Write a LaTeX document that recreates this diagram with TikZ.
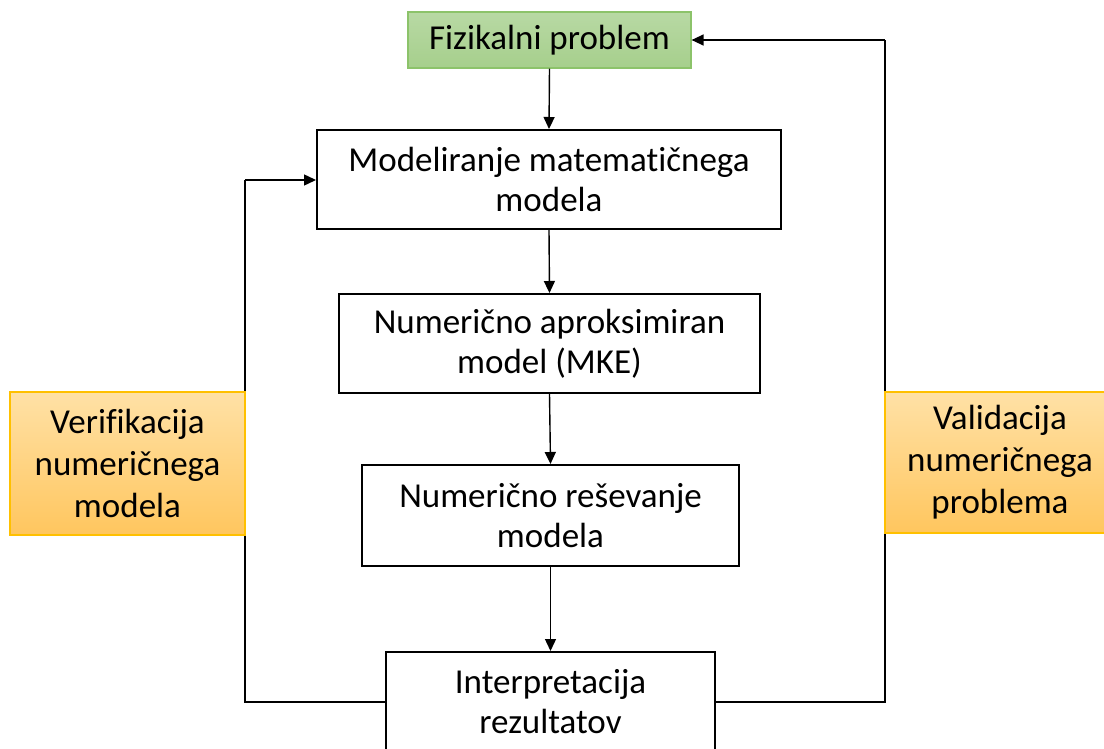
\documentclass[tikz,border=0pt]{standalone}
\usepackage{fontspec}
\setmainfont{Carlito}[Ligatures={NoCommon}]
\usetikzlibrary{arrows.meta}
\definecolor{gfill1}{HTML}{B8D9A4}
\definecolor{gfill2}{HTML}{A6CF8C}
\definecolor{gline}{HTML}{8CC36A}
\definecolor{ofill1}{HTML}{FFE1A6}
\definecolor{ofill2}{HTML}{FFC65E}
\definecolor{oline}{HTML}{FFC000}
\tikzset{
  box/.style={draw=black, line width=2pt, fill=white, align=center, inner sep=0pt,
    font=\fontsize{35}{40}\selectfont},
  greenbox/.style={draw=gline, line width=1.2pt, top color=gfill1, bottom color=gfill2,
    align=center, inner sep=0pt, font=\fontsize{35}{40}\selectfont},
  orangebox/.style={draw=oline, line width=1.2pt, top color=ofill1, bottom color=ofill2,
    align=center, inner sep=0pt, font=\fontsize{35}{42}\selectfont},
  conn/.style={draw=black, line width=1.4pt},
  arr/.style={conn, -{Triangle[length=12pt,width=11pt]}}
}
\begin{document}
\begin{tikzpicture}[x=1pt,y=-1pt]
\useasboundingbox (0,0) rectangle (1104,749);
\clip (0,0) rectangle (1104,749);
\fill[white] (0,0) rectangle (1104,749);
\node[greenbox, minimum width=283pt, minimum height=56pt] (fp) at (549.5,40) {Fizikalni problem};
\node[box, minimum width=464pt, minimum height=99pt] (mm) at (549,179.5) {Modeliranje matematičnega\\modela};
\node[box, minimum width=421pt, minimum height=99pt] (na) at (549.5,343.5) {Numerično aproksimiran\\model (MKE)};
\node[box, minimum width=377pt, minimum height=101pt] (nr) at (550.5,515.5) {Numerično reševanje\\modela};
\node[box, minimum width=329pt, minimum height=100pt] (ir) at (550.5,702) {Interpretacija\\rezultatov};
\coordinate (lb) at (245,702);
\coordinate (lt) at (245,180);
\coordinate (rb) at (885,702);
\coordinate (rt) at (885,40);
\draw[arr] (fp.south) -- (mm.north);
\draw[arr] (mm.south) -- (na.north);
\draw[arr] (na.south) -- (nr.north);
\draw[arr] (nr.south) -- (ir.north);
\draw[conn] (ir.west) -- (lb) -- (lt);
\draw[arr] (lt) -- (lt -| mm.west);
\draw[conn] (ir.east) -- (rb) -- (rt);
\draw[arr] (rt) -- (rt -| fp.east);
\node[orangebox, minimum width=235pt, minimum height=143pt] (ver) at (127.5,463.5) {Verifikacija\\numeričnega\\modela};
\node[orangebox, minimum width=230pt, minimum height=141pt] (val) at (1000,462.5) {Validacija\\numeričnega\\problema};
\end{tikzpicture}
\end{document}
